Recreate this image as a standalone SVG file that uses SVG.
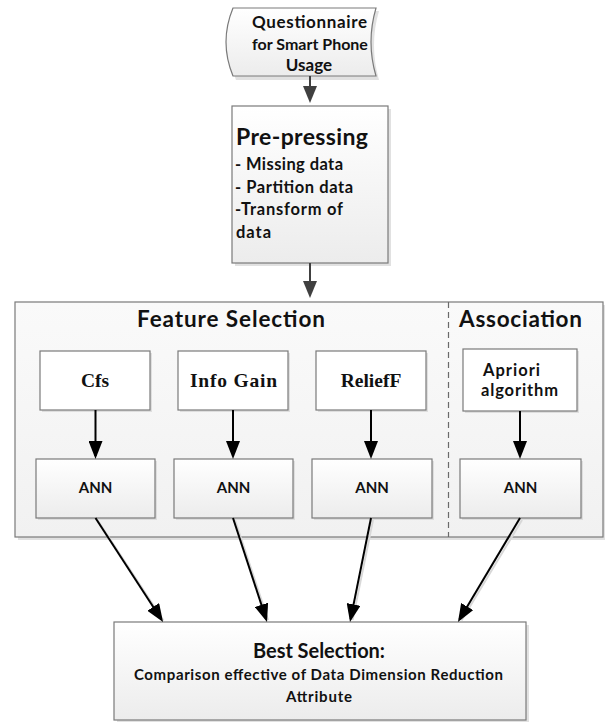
<svg xmlns="http://www.w3.org/2000/svg" width="606" height="722" viewBox="0 0 606 722">
  <defs>
    <linearGradient id="gFill" x1="0" y1="0" x2="0" y2="1">
      <stop offset="0" stop-color="#ffffff"/>
      <stop offset="1" stop-color="#ececec"/>
    </linearGradient>
    <linearGradient id="gPanel" x1="0" y1="0" x2="0" y2="1">
      <stop offset="0" stop-color="#fafafa"/>
      <stop offset="1" stop-color="#f1f1f1"/>
    </linearGradient>
    <marker id="headBlack" markerUnits="userSpaceOnUse" viewBox="0 0 18 14" markerWidth="18" markerHeight="14" refX="15" refY="7" orient="auto">
      <path d="M0,0 L18,7 L0,14 z" fill="#000"/>
    </marker>
    <marker id="headGray" markerUnits="userSpaceOnUse" viewBox="0 0 17 14" markerWidth="17" markerHeight="14" refX="14" refY="7" orient="auto">
      <path d="M0,0 L17,7 L0,14 z" fill="#404040"/>
    </marker>
  </defs>
  <style>
    .shadow { fill: #d4d4d4; opacity: 0.7; }
    .box { fill: url(#gFill); stroke: #7a7a7a; stroke-width: 1.2; }
    .plain { fill: #ffffff; stroke: #7a7a7a; stroke-width: 1.2; }
    .panel { fill: url(#gPanel); stroke: #7a7a7a; stroke-width: 1.2; }
    .sans { font-family: "Lato", "Liberation Sans", sans-serif; font-weight: bold; fill: #111; }
    .serif { font-family: "Liberation Serif", serif; font-weight: bold; fill: #111; }
    .gray { stroke: #404040; stroke-width: 2; fill: none; }
    .black { stroke: #000; stroke-width: 2; fill: none; }
    .lineShadow { stroke: #d8d8d8; stroke-width: 2; fill: none; }
  </style>
  <rect width="606" height="722" fill="#ffffff"/>

  <!-- questionnaire: stored-data shape -->
  <g id="questionnaire">
    <path class="shadow" d="M236,11 L379,11 Q369,45 379,80 L236,80 Q222,45 236,11 z"/>
    <path class="box" d="M233,8 L376,8 Q366,42 376,76 L233,76 Q219,42 233,8 z"/>
    <text class="sans" font-size="17" x="252" y="28" textLength="115">Questionnaire</text>
    <text class="sans" font-size="16" text-anchor="middle" x="310" y="50">for Smart Phone</text>
    <text class="sans" font-size="17" text-anchor="middle" x="309" y="71">Usage</text>
  </g>

  <!-- pre-processing step -->
  <g id="preprocessing">
    <rect class="shadow" x="235" y="109" width="156" height="157"/>
    <rect class="box" x="232" y="106" width="156" height="157"/>
    <text class="sans" font-size="23" x="236" y="145" textLength="132">Pre-pressing</text>
    <text class="sans" font-size="16.5" x="235" y="170" textLength="108">- Missing data</text>
    <text class="sans" font-size="16.5" x="235" y="193" textLength="118">- Partition data</text>
    <text class="sans" font-size="16.5" x="235" y="215" textLength="108">-Transform of</text>
    <text class="sans" font-size="16.5" x="236" y="238" textLength="35">data</text>
  </g>

  <!-- outer panel with feature selection and association -->
  <g id="panel">
    <rect class="shadow" x="18" y="305" width="587" height="235"/>
    <rect class="panel" x="15" y="302" width="588" height="235"/>
    <line x1="448.5" y1="302" x2="448.5" y2="537" stroke="#6a6a6a" stroke-width="1.2" stroke-dasharray="6,4"/>
    <text class="sans" font-size="22.5" x="137" y="327" textLength="188">Feature Selection</text>
    <text class="sans" font-size="22.5" x="459" y="327" textLength="123">Association</text>
  </g>

  <g id="cfs">
    <rect class="shadow" x="42" y="353" width="110" height="59"/>
    <rect class="plain" x="40" y="351" width="110" height="59"/>
    <text class="serif" font-size="19.5" text-anchor="middle" x="95" y="387">Cfs</text>
  </g>
  <g id="infogain">
    <rect class="shadow" x="180" y="353" width="110" height="59"/>
    <rect class="plain" x="178" y="351" width="110" height="59"/>
    <text class="serif" font-size="19.5" x="190" y="387" textLength="87">Info Gain</text>
  </g>
  <g id="relieff">
    <rect class="shadow" x="318" y="353" width="110" height="59"/>
    <rect class="plain" x="316" y="351" width="110" height="59"/>
    <text class="serif" font-size="19.5" text-anchor="middle" x="371" y="387">ReliefF</text>
  </g>
  <g id="apriori">
    <rect class="shadow" x="465" y="351" width="114" height="62"/>
    <rect class="plain" x="463" y="349" width="114" height="62"/>
    <text class="sans" font-size="16.5" x="483" y="376" textLength="57">Apriori</text>
    <text class="sans" font-size="16.5" x="481" y="396" textLength="77">algorithm</text>
  </g>

  <g id="ann1">
    <rect class="shadow" x="38" y="461" width="119" height="59"/>
    <rect class="box" x="36" y="459" width="119" height="59"/>
    <text class="sans" font-size="15" text-anchor="middle" x="95.5" y="493">ANN</text>
  </g>
  <g id="ann2">
    <rect class="shadow" x="176" y="461" width="119" height="59"/>
    <rect class="box" x="174" y="459" width="119" height="59"/>
    <text class="sans" font-size="15" text-anchor="middle" x="233.5" y="493">ANN</text>
  </g>
  <g id="ann3">
    <rect class="shadow" x="314" y="461" width="120" height="59"/>
    <rect class="box" x="312" y="459" width="120" height="59"/>
    <text class="sans" font-size="15" text-anchor="middle" x="372" y="493">ANN</text>
  </g>
  <g id="ann4">
    <rect class="shadow" x="462" y="461" width="121" height="59"/>
    <rect class="box" x="460" y="459" width="121" height="59"/>
    <text class="sans" font-size="15" text-anchor="middle" x="520.5" y="493">ANN</text>
  </g>

  <g id="best">
    <rect class="shadow" x="117" y="625" width="412" height="97"/>
    <rect class="box" x="114" y="622" width="412" height="98"/>
    <text class="sans" font-size="20" x="253" y="658" textLength="132">Best Selection:</text>
    <text class="sans" font-size="15" x="134" y="680" textLength="369">Comparison effective of Data Dimension Reduction</text>
    <text class="sans" font-size="15" x="286" y="702" textLength="66">Attribute</text>
  </g>

  <!-- connectors -->
  <g id="connectors">
    <line class="gray" x1="310" y1="76" x2="310" y2="100" marker-end="url(#headGray)"/>
    <line class="gray" x1="310" y1="263" x2="310" y2="295" marker-end="url(#headGray)"/>

    <line class="black" x1="95.5" y1="410" x2="95.5" y2="456" marker-end="url(#headBlack)"/>
    <line class="black" x1="233" y1="410" x2="233" y2="456" marker-end="url(#headBlack)"/>
    <line class="black" x1="371" y1="410" x2="371" y2="456" marker-end="url(#headBlack)"/>
    <line class="black" x1="520" y1="411" x2="520" y2="456" marker-end="url(#headBlack)"/>

    <line class="lineShadow" x1="97.5" y1="520" x2="163.4" y2="620.5"/>
    <line class="lineShadow" x1="235" y1="520" x2="268.1" y2="620.1"/>
    <line class="lineShadow" x1="373" y1="520" x2="352.6" y2="620.1"/>
    <line class="lineShadow" x1="522" y1="520" x2="461.5" y2="620.4"/>

    <line class="black" x1="95.5" y1="518" x2="161.4" y2="619.5" marker-end="url(#headBlack)"/>
    <line class="black" x1="233" y1="518" x2="266.1" y2="619.1" marker-end="url(#headBlack)"/>
    <line class="black" x1="371" y1="518" x2="350.6" y2="619.1" marker-end="url(#headBlack)"/>
    <line class="black" x1="520" y1="518" x2="459.5" y2="619.4" marker-end="url(#headBlack)"/>
  </g>
</svg>
